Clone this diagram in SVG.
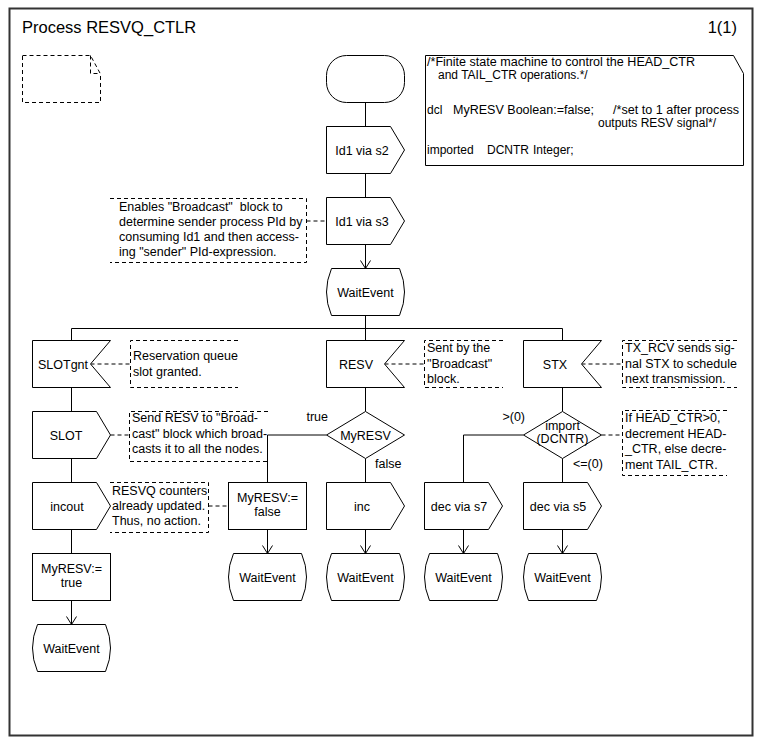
<svg xmlns="http://www.w3.org/2000/svg" width="761" height="743" viewBox="0 0 761 743">
  <style>
    .sym { fill: #fff; stroke: #000; stroke-width: 1; }
    .ln { fill: none; stroke: #000; stroke-width: 1; }
    .dash { fill: none; stroke: #000; stroke-width: 1; stroke-dasharray: 4 3; }
    text { font-family: "Liberation Sans", Arial, sans-serif; font-size: 12.5px; fill: #000; }
    .mid { text-anchor: middle; }
    .end { text-anchor: end; }
    .title { font-size: 16.5px; }
    .decl { font-size: 12px; }
  </style>
  <defs>
    <marker id="arrow" markerUnits="userSpaceOnUse" markerWidth="12" markerHeight="12" refX="8" refY="6" orient="auto" overflow="visible">
      <path d="M0,1 L8,6 L0,11" fill="none" stroke="#000" stroke-width="1"/>
    </marker>
  </defs>

  <rect width="761" height="743" fill="#fff"/>

  <!-- page frame and heading -->
  <g id="frame">
    <rect x="9.5" y="8.5" width="743" height="727" fill="none" stroke="#333" stroke-width="2"/>
    <text class="title" x="22" y="33">Process RESVQ_CTLR</text>
    <text class="title end" x="737" y="33">1(1)</text>
  </g>

  <!-- empty dashed note, top left -->
  <g id="note-empty">
    <path class="dash" d="M22.5,55.5 H90.5 L100.5,74 V102.5 H22.5 Z"/>
    <path class="dash" d="M90.5,55.5 V73.5 H100.5"/>
  </g>

  <!-- declarations text symbol -->
  <g id="declarations">
    <path class="sym" d="M425.5,55.5 H733.5 L743.5,73.5 V165.5 H425.5 Z"/>
    <text class="decl" x="427" y="65.5" textLength="268" lengthAdjust="spacingAndGlyphs">/*Finite state machine to control the HEAD_CTR</text>
    <text class="decl" x="438" y="78.5">and TAIL_CTR operations.*/</text>
    <text class="decl" x="427" y="113.5">dcl</text>
    <text class="decl" x="453" y="113.5" textLength="141" lengthAdjust="spacingAndGlyphs">MyRESV Boolean:=false;</text>
    <text class="decl" x="613" y="113.5" textLength="126" lengthAdjust="spacingAndGlyphs">/*set to 1 after process</text>
    <text class="decl" x="598" y="127">outputs RESV signal*/</text>
    <text class="decl" x="427" y="154">imported</text>
    <text class="decl" x="487" y="154">DCNTR</text>
    <text class="decl" x="533" y="154">Integer;</text>
  </g>

  <!-- connectors -->
  <g id="connectors">
    <path class="ln" d="M365.5,102.5 V126.5"/>
    <path class="ln" d="M365.5,173.5 V197.5"/>
    <path class="ln" d="M365.5,244.5 V268.5" marker-end="url(#arrow)"/>
    <path class="ln" d="M365.5,315.5 V340.5"/>
    <path class="ln" d="M71.5,340.5 V328.5 H562.5 V340.5"/>
    <path class="ln" d="M71.5,387.5 V411.5"/>
    <path class="ln" d="M71.5,458.5 V482.5"/>
    <path class="ln" d="M71.5,529.5 V553.5"/>
    <path class="ln" d="M71.5,600.5 V624.5" marker-end="url(#arrow)"/>
    <path class="ln" d="M365.5,387.5 V411.5"/>
    <path class="ln" d="M365.5,458.5 V482.5"/>
    <path class="ln" d="M365.5,529.5 V553.5" marker-end="url(#arrow)"/>
    <path class="ln" d="M326.5,435 H267.5 V482.5"/>
    <path class="ln" d="M267.5,529.5 V553.5" marker-end="url(#arrow)"/>
    <path class="ln" d="M562.5,387.5 V411.5"/>
    <path class="ln" d="M562.5,458.5 V482.5"/>
    <path class="ln" d="M562.5,529.5 V553.5" marker-end="url(#arrow)"/>
    <path class="ln" d="M523.5,435 H463.5 V482.5"/>
    <path class="ln" d="M463.5,529.5 V553.5" marker-end="url(#arrow)"/>
    <!-- comment attachments -->
    <path class="dash" d="M306.5,221 H326.5"/>
    <path class="dash" d="M90.5,364 H130.5"/>
    <path class="dash" d="M110.5,435 H129.5"/>
    <path class="dash" d="M384.5,364 H424.5"/>
    <path class="dash" d="M581.5,364 H622.5"/>
    <path class="dash" d="M601.5,435 H622.5"/>
    <path class="dash" d="M208.5,506 H228.5"/>
    <!-- branch labels -->
    <text class="end" x="328" y="421">true</text>
    <text x="375" y="468">false</text>
    <text class="end" x="525" y="421">&gt;(0)</text>
    <text x="573" y="468">&lt;=(0)</text>
  </g>

  <!-- main column -->
  <g id="start">
    <rect class="sym" x="326.5" y="55.5" width="78" height="47" rx="20" ry="20"/>
  </g>
  <g id="out-id1-s2">
    <polygon class="sym" points="326.5,126.5 390.5,126.5 404.5,150 390.5,173.5 326.5,173.5"/>
    <text class="mid" x="362" y="154.5">Id1 via s2</text>
  </g>
  <g id="out-id1-s3">
    <polygon class="sym" points="326.5,197.5 390.5,197.5 404.5,221 390.5,244.5 326.5,244.5"/>
    <text class="mid" x="362" y="225.5">Id1 via s3</text>
  </g>
  <g id="comment-broadcast">
    <path class="dash" d="M110,198.5 H306.5 V262.5 H110"/>
    <text x="119" y="211" xml:space="preserve">Enables "Broadcast"  block to</text>
    <text x="119" y="226">determine sender process PId by</text>
    <text x="119" y="241">consuming Id1 and then access-</text>
    <text x="119" y="256">ing "sender" PId-expression.</text>
  </g>
  <g id="state-wait-main">
    <path class="sym" d="M331.5,268.5 H399.5 Q409.5,292 399.5,315.5 H331.5 Q321.5,292 331.5,268.5 Z"/>
    <text class="mid" x="365.5" y="296.5">WaitEvent</text>
  </g>

  <!-- SLOTgnt branch -->
  <g id="in-slotgnt">
    <polygon class="sym" points="32.5,340.5 110.5,340.5 90.5,364 110.5,387.5 32.5,387.5"/>
    <text class="mid" x="63" y="368.5">SLOTgnt</text>
  </g>
  <g id="comment-slotgnt">
    <path class="dash" d="M238,340.5 H130.5 V387.5 H238"/>
    <text x="133" y="359.5">Reservation queue</text>
    <text x="133" y="375.5">slot granted.</text>
  </g>
  <g id="out-slot">
    <polygon class="sym" points="32.5,411.5 96.5,411.5 110.5,435 96.5,458.5 32.5,458.5"/>
    <text class="mid" x="66" y="439.5">SLOT</text>
  </g>
  <g id="comment-slot">
    <path class="dash" d="M268,411.5 H129.5 V461.5 H268"/>
    <text x="132" y="422">Send RESV to "Broad-</text>
    <text x="132" y="438">cast" block which broad-</text>
    <text x="132" y="453">casts it to all the nodes.</text>
  </g>
  <g id="out-incout">
    <polygon class="sym" points="32.5,482.5 96.5,482.5 110.5,506 96.5,529.5 32.5,529.5"/>
    <text class="mid" x="67" y="510.5">incout</text>
  </g>
  <g id="task-myresv-true">
    <rect class="sym" x="32.5" y="553.5" width="78" height="47"/>
    <text class="mid" x="71.5" y="572.5">MyRESV:=</text>
    <text class="mid" x="71.5" y="586.5">true</text>
  </g>
  <g id="state-wait-1">
    <path class="sym" d="M37.5,624.5 H105.5 Q115.5,648 105.5,671.5 H37.5 Q27.5,648 37.5,624.5 Z"/>
    <text class="mid" x="71.5" y="652.5">WaitEvent</text>
  </g>

  <!-- RESV branch -->
  <g id="in-resv">
    <polygon class="sym" points="326.5,340.5 404.5,340.5 384.5,364 404.5,387.5 326.5,387.5"/>
    <text class="mid" x="356" y="368.5">RESV</text>
  </g>
  <g id="comment-resv">
    <path class="dash" d="M503,340.5 H424.5 V387.5 H503"/>
    <text x="427" y="351.5">Sent by the</text>
    <text x="427" y="367.5">"Broadcast"</text>
    <text x="427" y="382.5">block.</text>
  </g>
  <g id="dec-myresv">
    <polygon class="sym" points="365.5,411.5 404.5,435 365.5,458.5 326.5,435"/>
    <text class="mid" x="365.5" y="439.5">MyRESV</text>
  </g>
  <g id="task-myresv-false">
    <rect class="sym" x="228.5" y="482.5" width="78" height="47"/>
    <text class="mid" x="267.5" y="502">MyRESV:=</text>
    <text class="mid" x="267.5" y="516">false</text>
  </g>
  <g id="comment-counters">
    <path class="dash" d="M110,482.5 H208.5 V532.5 H110"/>
    <text x="112" y="494.5">RESVQ counters</text>
    <text x="112" y="509.5">already updated.</text>
    <text x="112" y="524.5">Thus, no action.</text>
  </g>
  <g id="state-wait-2">
    <path class="sym" d="M233.5,553.5 H301.5 Q311.5,577 301.5,600.5 H233.5 Q223.5,577 233.5,553.5 Z"/>
    <text class="mid" x="267.5" y="581.5">WaitEvent</text>
  </g>
  <g id="out-inc">
    <polygon class="sym" points="326.5,482.5 390.5,482.5 404.5,506 390.5,529.5 326.5,529.5"/>
    <text class="mid" x="362" y="510.5">inc</text>
  </g>
  <g id="state-wait-3">
    <path class="sym" d="M331.5,553.5 H399.5 Q409.5,577 399.5,600.5 H331.5 Q321.5,577 331.5,553.5 Z"/>
    <text class="mid" x="365.5" y="581.5">WaitEvent</text>
  </g>

  <!-- STX branch -->
  <g id="in-stx">
    <polygon class="sym" points="523.5,340.5 601.5,340.5 581.5,364 601.5,387.5 523.5,387.5"/>
    <text class="mid" x="555" y="368.5">STX</text>
  </g>
  <g id="comment-stx">
    <path class="dash" d="M737,340.5 H622.5 V387.5 H737"/>
    <text x="625" y="351.5">TX_RCV sends sig-</text>
    <text x="625" y="367.5">nal STX to schedule</text>
    <text x="625" y="382.5">next transmission.</text>
  </g>
  <g id="dec-import">
    <polygon class="sym" points="562.5,411.5 601.5,435 562.5,458.5 523.5,435"/>
    <text class="mid" x="562.5" y="430">import</text>
    <text class="mid" x="562.5" y="443">(DCNTR)</text>
  </g>
  <g id="comment-import">
    <path class="dash" d="M727,410.5 H622.5 V475.5 H727"/>
    <text x="625" y="421.5">If HEAD_CTR&gt;0,</text>
    <text x="625" y="437.5">decrement HEAD-</text>
    <text x="625" y="452.5">_CTR, else decre-</text>
    <text x="625" y="468.5">ment TAIL_CTR.</text>
  </g>
  <g id="out-dec-s7">
    <polygon class="sym" points="424.5,482.5 488.5,482.5 502.5,506 488.5,529.5 424.5,529.5"/>
    <text class="mid" x="459" y="510.5">dec via s7</text>
  </g>
  <g id="state-wait-4">
    <path class="sym" d="M429.5,553.5 H497.5 Q507.5,577 497.5,600.5 H429.5 Q419.5,577 429.5,553.5 Z"/>
    <text class="mid" x="463.5" y="581.5">WaitEvent</text>
  </g>
  <g id="out-dec-s5">
    <polygon class="sym" points="523.5,482.5 587.5,482.5 601.5,506 587.5,529.5 523.5,529.5"/>
    <text class="mid" x="558" y="510.5">dec via s5</text>
  </g>
  <g id="state-wait-5">
    <path class="sym" d="M528.5,553.5 H596.5 Q606.5,577 596.5,600.5 H528.5 Q518.5,577 528.5,553.5 Z"/>
    <text class="mid" x="562.5" y="581.5">WaitEvent</text>
  </g>
</svg>
